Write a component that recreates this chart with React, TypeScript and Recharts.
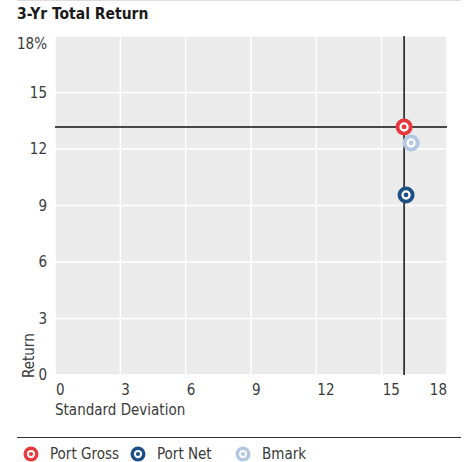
import { CartesianGrid, ReferenceLine, Scatter, ScatterChart, XAxis, YAxis } from "recharts";

const SERIES = ["Port Gross", "Port Net", "Bmark"];
const STD_DEV = [16.03, 16.12, 16.35];
const RETURNS = [13.17, 9.56, 12.32];
const COLORS = ["#e8383d", "#1d4f87", "#b3c6e4"];
const X_TICKS = [0, 3, 6, 9, 12, 15, 18];
const Y_TICKS = [0, 3, 6, 9, 12, 15, 18];

const FONT = "'Liberation Sans Narrow', 'DejaVu Sans Condensed', 'Roboto', sans-serif";
const TEXT = "#3a3a3a";

const Ring = ({ cx, cy, fill, r = 8.5 }: any) => (
  <g>
    <circle cx={cx} cy={cy} r={r} fill={fill} />
    <circle cx={cx} cy={cy} r={r * 0.55} fill="#fff" />
    <circle cx={cx} cy={cy} r={r * 0.28} fill={fill} />
  </g>
);

const XTick = ({ x, y, payload }: any) => {
  const last = payload.value === X_TICKS[X_TICKS.length - 1];
  return (
    <text x={x + (last ? 0 : 1)} y={y + 12} textAnchor={last ? "end" : "start"} fontSize={15} fill={TEXT} fontFamily={FONT}>
      {payload.value}
    </text>
  );
};

const YTick = ({ x, y, payload }: any) => {
  const top = payload.value === Y_TICKS[Y_TICKS.length - 1];
  return (
    <text x={x} y={y + (top ? 13 : 5)} textAnchor="end" fontSize={15} fill={TEXT} fontFamily={FONT}>
      {top ? `${payload.value}%` : payload.value}
    </text>
  );
};

export default function App() {
  const rows = SERIES.map((name, i) => ({ name, sd: STD_DEV[i], ret: RETURNS[i], color: COLORS[i] }));
  return (
    <div style={{ position: "absolute", left: 0, top: 0, width: 468, height: 462, background: "#fff", fontFamily: FONT }}>
      <div style={{ position: "absolute", left: 17, top: 0, width: 444, borderTop: "1px solid #dcdcdc" }} />
      <div style={{ position: "absolute", left: 17, top: 5, fontSize: 15.5, fontWeight: 700, color: "#1a1a1a" }}>
        3-Yr Total Return
      </div>
      <ScatterChart width={468} height={430} margin={{ top: 36, right: 21, left: 15, bottom: 25 }}>
        <CartesianGrid stroke="#ffffff" strokeWidth={1.5} fill="#ebebeb" />
        <XAxis
          type="number"
          dataKey="sd"
          domain={[0, 18]}
          ticks={X_TICKS}
          axisLine={false}
          tickLine={false}
          tick={<XTick />}
          height={30}
        />
        <YAxis
          type="number"
          dataKey="ret"
          domain={[0, 18]}
          ticks={Y_TICKS}
          axisLine={false}
          tickLine={false}
          tick={<YTick />}
          width={40}
        />
        <ReferenceLine x={STD_DEV[0]} stroke="#111" strokeWidth={1.5} />
        <ReferenceLine y={RETURNS[0]} stroke="#111" strokeWidth={1.5} />
        {rows
          .slice()
          .reverse()
          .map((s) => (
            <Scatter
              key={s.name}
              name={s.name}
              data={[s]}
              fill={s.color}
              isAnimationActive={false}
              shape={(p: any) => <Ring cx={p.cx} cy={p.cy} fill={s.color} />}
            />
          ))}
      </ScatterChart>
      <div style={{ position: "absolute", left: 20, top: 378, fontSize: 15, color: TEXT, whiteSpace: "nowrap", transform: "rotate(-90deg)", transformOrigin: "left top" }}>
        Return
      </div>
      <div style={{ position: "absolute", left: 55, top: 401, fontSize: 15, color: TEXT }}>Standard Deviation</div>
      <div style={{ position: "absolute", left: 17, top: 437, width: 444, borderTop: "1px solid #333" }} />
      {rows.map((s, i) => (
        <div
          key={s.name}
          style={{
            position: "absolute",
            left: [23, 130, 235][i],
            top: 445,
            display: "flex",
            alignItems: "center",
            fontSize: 15,
            color: TEXT,
          }}
        >
          <svg width={16} height={16} style={{ marginRight: 11 }}>
            <Ring cx={8} cy={8} fill={s.color} r={7.5} />
          </svg>
          {s.name}
        </div>
      ))}
    </div>
  );
}
